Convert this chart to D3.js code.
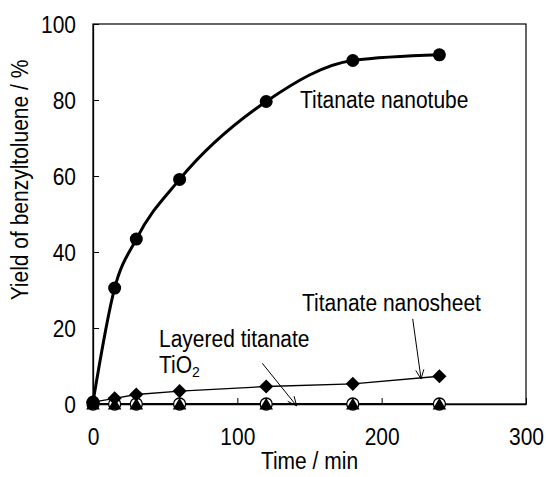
<!DOCTYPE html>
<html><head><meta charset="utf-8">
<script src="https://cdn.jsdelivr.net/npm/d3@7"></script>
<style>body{margin:0;background:#fff}svg text{font-family:"Liberation Sans",Arial,sans-serif;fill:#000}</style>
</head><body><svg id="c" width="546" height="477"></svg>
<script>
const times = [0, 15, 30, 60, 120, 180, 240];
const nanotube = [0.5, 30.5, 43.4, 59.1, 79.6, 90.4, 91.9];
const nanosheet = [0.5, 1.5, 2.5, 3.4, 4.6, 5.3, 7.3];
const layered = [0, 0, 0, 0, 0, 0, 0];
const tio2 = [0, 0, 0, 0, 0, 0, 0];
const xTicks = [0, 100, 200, 300];
const yTicks = [0, 20, 40, 60, 80, 100];

const svg = d3.select("#c");
const L = 93, R = 526, T = 24, B = 404;
const x = d3.scaleLinear().domain([0, 300]).range([L, R]);
const y = d3.scaleLinear().domain([0, 100]).range([B, T]);
const fs = 21, SY = 1.1;

// frame
svg.append("rect").attr("x", L).attr("y", T).attr("width", R - L).attr("height", B - T)
  .attr("fill", "none").attr("stroke", "#000").attr("stroke-width", 1.2);

// axes
const xa = svg.append("g").attr("transform", `translate(0,${B})`)
  .call(d3.axisBottom(x).tickValues(xTicks).tickSizeInner(-6).tickSizeOuter(0).tickPadding(0));
const ya = svg.append("g").attr("transform", `translate(${L},0)`)
  .call(d3.axisLeft(y).tickValues(yTicks).tickSizeInner(-6).tickSizeOuter(0).tickPadding(0));
[xa, ya].forEach(a => {
  a.select(".domain").attr("stroke", "#000").attr("stroke-width", 1.3);
  a.selectAll(".tick line").attr("stroke", "#000").attr("stroke-width", 1);
  a.selectAll(".tick text").attr("font-size", fs).attr("font-family", "Liberation Sans, Arial, sans-serif");
});
xa.selectAll(".tick text").attr("x", 0).attr("y", 0).attr("dy", null)
  .attr("transform", `translate(0,41) scale(1,${SY})`);
ya.selectAll(".tick text").attr("x", 0).attr("y", 0).attr("dy", null)
  .attr("transform", `translate(-17,8) scale(1,${SY})`);

function stext(px, py, str, anchor) {
  return svg.append("text").attr("transform", `translate(${px},${py}) scale(1,${SY})`)
    .attr("text-anchor", anchor || "start").attr("font-size", fs).text(str);
}

// axis titles
stext((L + R) / 2, 469, "Time / min", "middle");
svg.append("text").attr("transform", `translate(28,180) rotate(-90) scale(1,${SY})`).attr("text-anchor", "middle")
  .attr("font-size", fs).text("Yield of benzyltoluene / %");

const pts = v => times.map((t, i) => [x(t), y(v[i])]);

// lines
svg.append("path").attr("d", d3.line()(pts(tio2)))
  .attr("fill", "none").attr("stroke", "#000").attr("stroke-width", 1.5);
svg.append("path").attr("d", d3.line()(pts(layered)))
  .attr("fill", "none").attr("stroke", "#000").attr("stroke-width", 1.5);
svg.append("path").attr("d", d3.line()(pts(nanosheet)))
  .attr("fill", "none").attr("stroke", "#000").attr("stroke-width", 1.3);
svg.append("path").attr("d", d3.line().curve(d3.curveMonotoneX)(pts(nanotube)))
  .attr("fill", "none").attr("stroke", "#000").attr("stroke-width", 3);

// markers
svg.append("g").selectAll("circle").data(pts(layered)).join("circle")
  .attr("cx", d => d[0]).attr("cy", d => d[1]).attr("r", 6)
  .attr("fill", "#fff").attr("stroke", "#000").attr("stroke-width", 1.3);
svg.append("g").selectAll("path").data(pts(tio2)).join("path")
  .attr("transform", d => `translate(${d[0]},${d[1] + 1.5})`)
  .attr("d", d3.symbol(d3.symbolTriangle, 80)).attr("fill", "#000");
svg.append("g").selectAll("path").data(pts(nanosheet)).join("path")
  .attr("transform", d => `translate(${d[0]},${d[1]}) rotate(45)`)
  .attr("d", "M-5,-5H5V5H-5Z").attr("fill", "#000");
svg.append("g").selectAll("circle").data(pts(nanotube)).join("circle")
  .attr("cx", d => d[0]).attr("cy", d => d[1]).attr("r", 6.5).attr("fill", "#000");

// annotations
stext(300, 108, "Titanate nanotube");
stext(302, 311, "Titanate nanosheet");
stext(159, 347, "Layered titanate");
const t2 = stext(159, 373, "");
t2.append("tspan").text("TiO");
t2.append("tspan").attr("font-size", 14).attr("dy", 4).text("2");

function arrow(x1, y1, x2, y2) {
  const X1 = x(x1), Y1 = y(y1), X2 = x(x2), Y2 = y(y2);
  const a = Math.atan2(Y2 - Y1, X2 - X1), h = 10, w = 0.42;
  const p = `M${X1},${Y1}L${X2},${Y2}` +
    `M${X2 - h * Math.cos(a - w)},${Y2 - h * Math.sin(a - w)}L${X2},${Y2}` +
    `L${X2 - h * Math.cos(a + w)},${Y2 - h * Math.sin(a + w)}`;
  svg.append("path").attr("d", p).attr("fill", "none").attr("stroke", "#000").attr("stroke-width", 1);
}
arrow(221.5, 22.4, 227.3, 6.6);
arrow(117.3, 10.7, 141.1, -0.5);
</script></body></html>
